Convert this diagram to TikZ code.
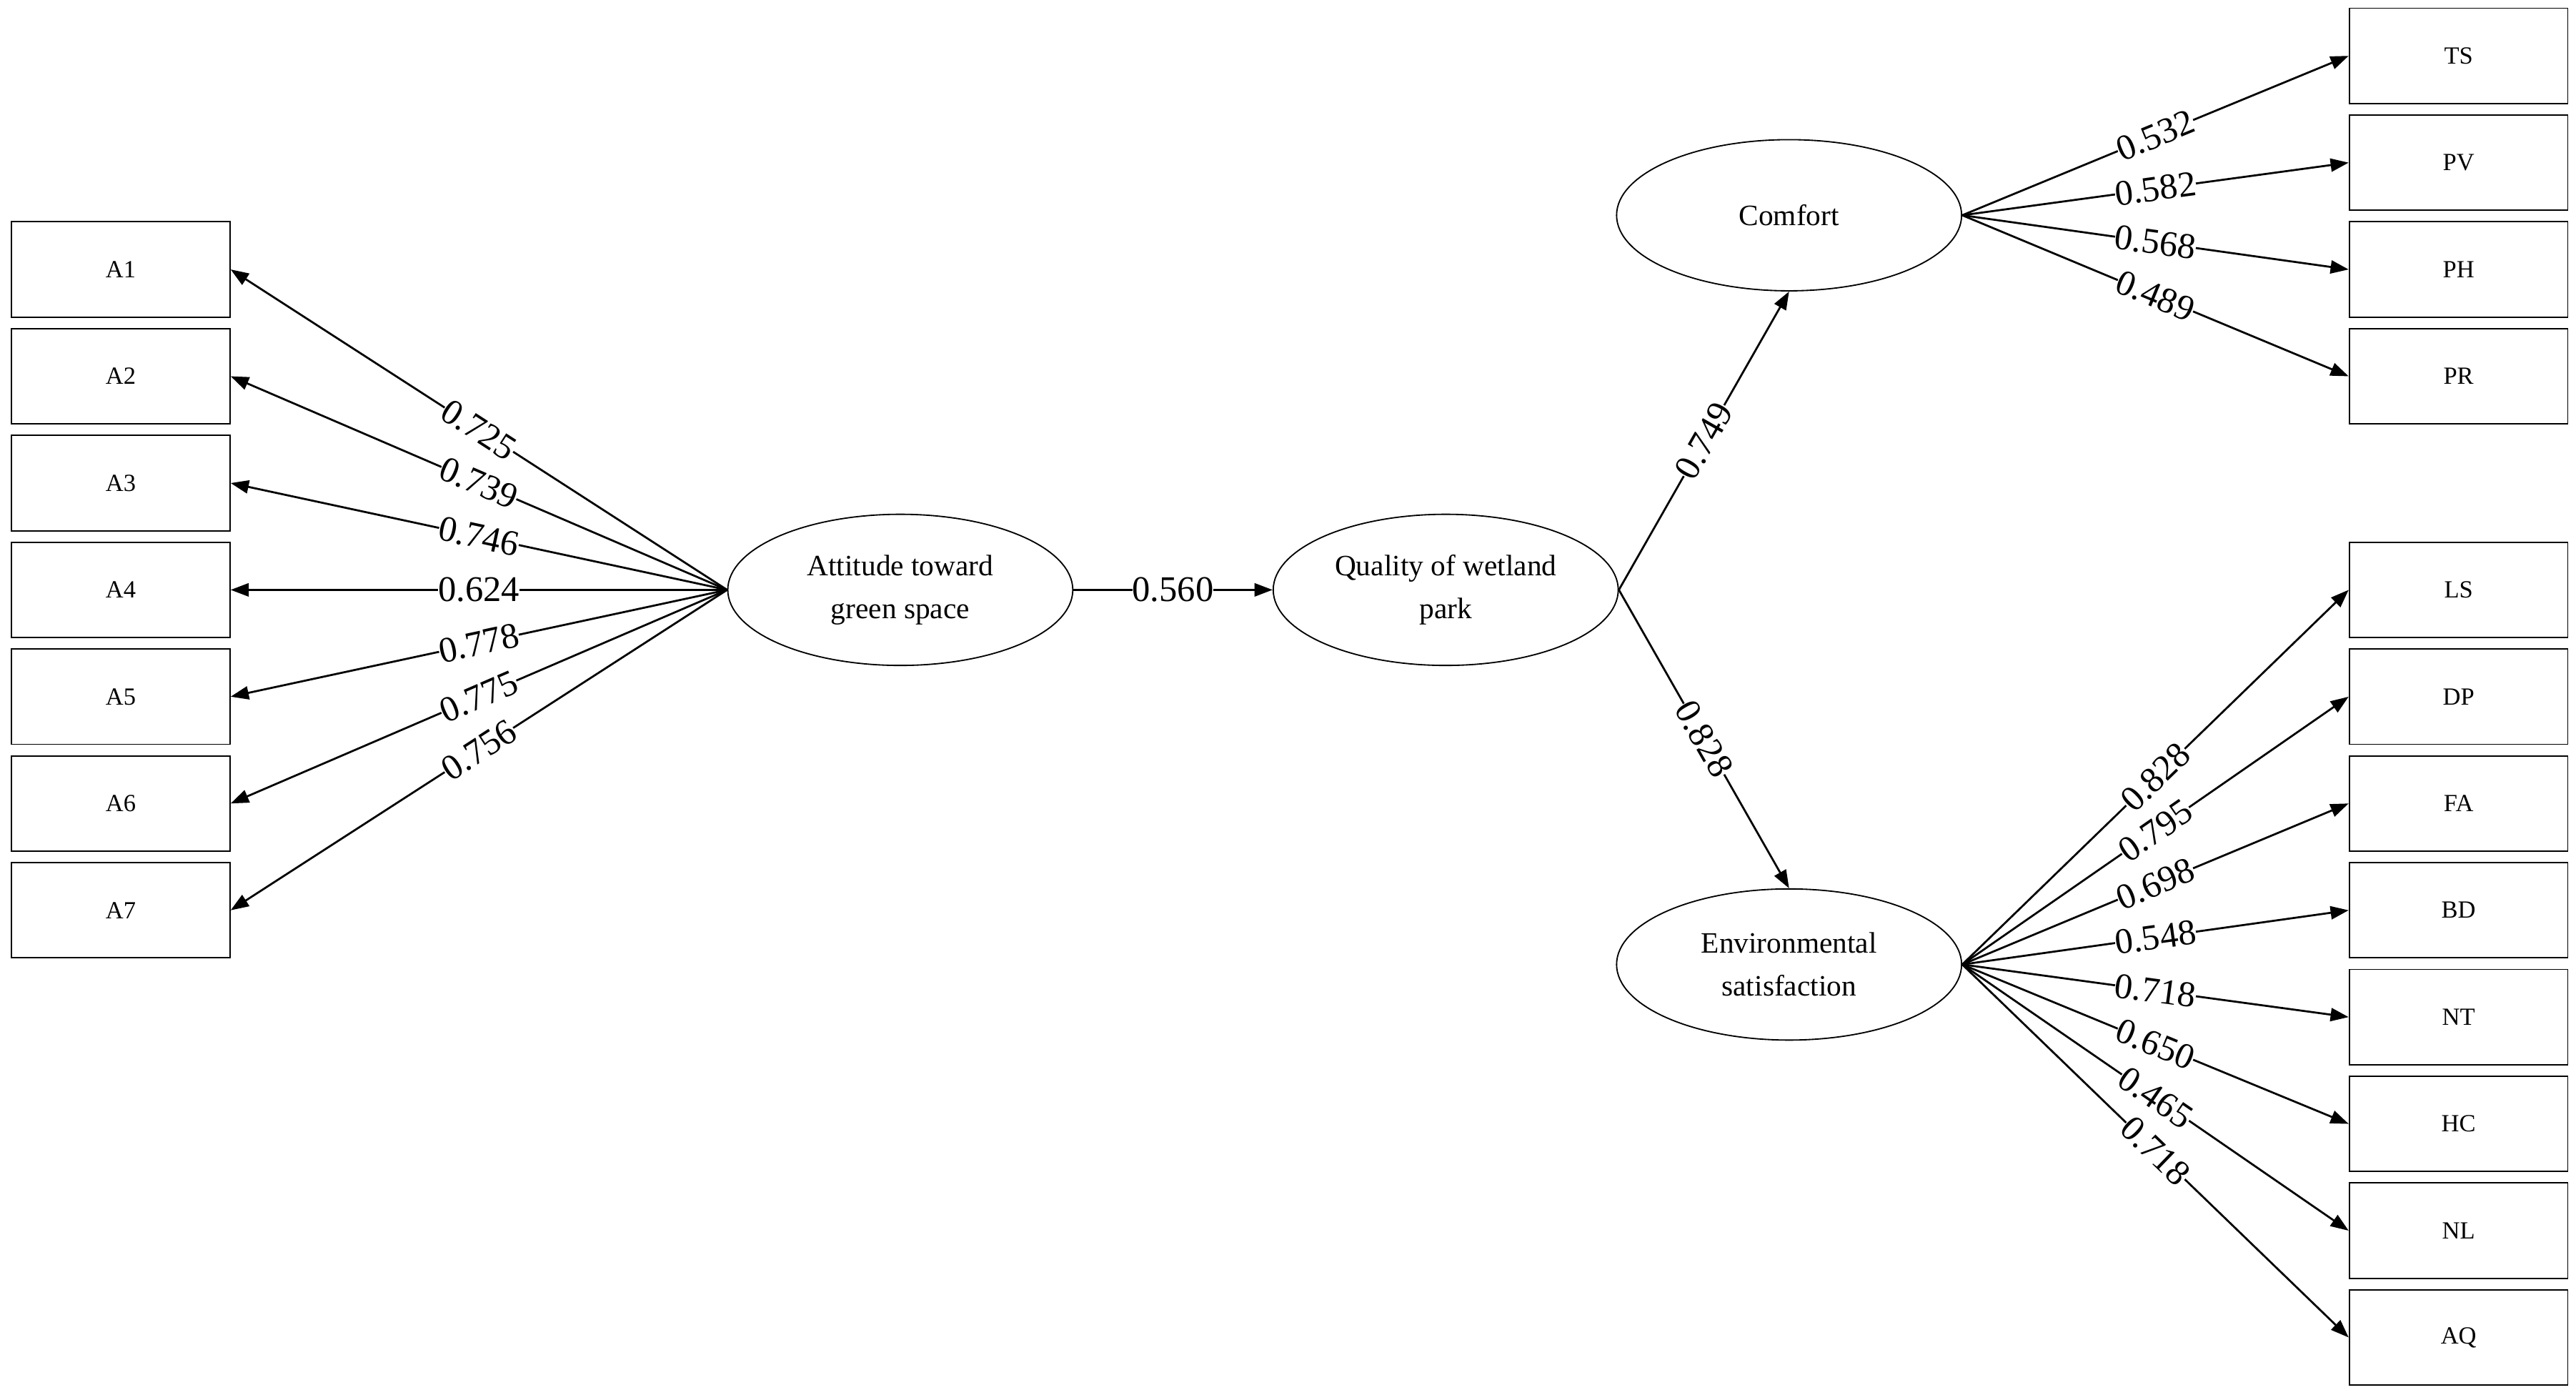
\documentclass[tikz,border=0pt]{standalone}
\usepackage{fontspec}
\setmainfont{Liberation Serif}
\usetikzlibrary{arrows.meta,shapes.geometric}
\begin{document}
\begin{tikzpicture}[x=1pt,y=-1pt,
 box/.style={draw,line width=0.8pt,minimum width=133pt,minimum height=58pt,inner sep=0pt,font=\fontsize{15}{15}\selectfont},
 lat/.style={draw,line width=0.8pt,ellipse,minimum width=210pt,minimum height=92pt,inner sep=0pt,align=center,font=\fontsize{18}{26}\selectfont},
 arr/.style={line width=1.2pt,-{Triangle[length=11pt,width=8pt]}},
 lab/.style={sloped,fill=white,inner sep=0pt,font=\fontsize{22}{22}\selectfont}]
\useasboundingbox (0,0) rectangle (1568,849);
\foreach \n/\y in {1/164,2/229,3/294,4/359,5/424,6/489,7/554}
  \node[box] (A\n) at (73.5,\y) {A\n};
\foreach \n/\y in {TS/34,PV/99,PH/164,PR/229,LS/359,DP/424,FA/489,BD/554,NT/619,HC/684,NL/749,AQ/814}
  \node[box] (\n) at (1496.5,\y) {\n};
\node[lat] (att) at (548,359) {Attitude toward\\green space};
\node[lat] (qual) at (880,359) {Quality of wetland\\park};
\node[lat] (com) at (1089,131) {Comfort};
\node[lat] (env) at (1089,587) {Environmental\\satisfaction};
\foreach \n/\v in {1/0.725,2/0.739,3/0.746,4/0.624,5/0.778,6/0.775,7/0.756}
  \draw[arr] (att.west) -- node[lab,pos=0.5]{\v} (A\n.east);
\draw[arr] (att.east) -- node[lab]{0.560} (qual.west);
\draw[arr] (qual.east) -- node[lab]{0.749} (com.south);
\draw[arr] (qual.east) -- node[lab]{0.828} (env.north);
\foreach \n/\v in {TS/0.532,PV/0.582,PH/0.568,PR/0.489}
  \draw[arr] (com.east) -- node[lab,pos=0.5]{\v} (\n.west);
\foreach \n/\v in {LS/0.828,DP/0.795,FA/0.698,BD/0.548,NT/0.718,HC/0.650,NL/0.465,AQ/0.718}
  \draw[arr] (env.east) -- node[lab,pos=0.5]{\v} (\n.west);
\end{tikzpicture}
\end{document}
